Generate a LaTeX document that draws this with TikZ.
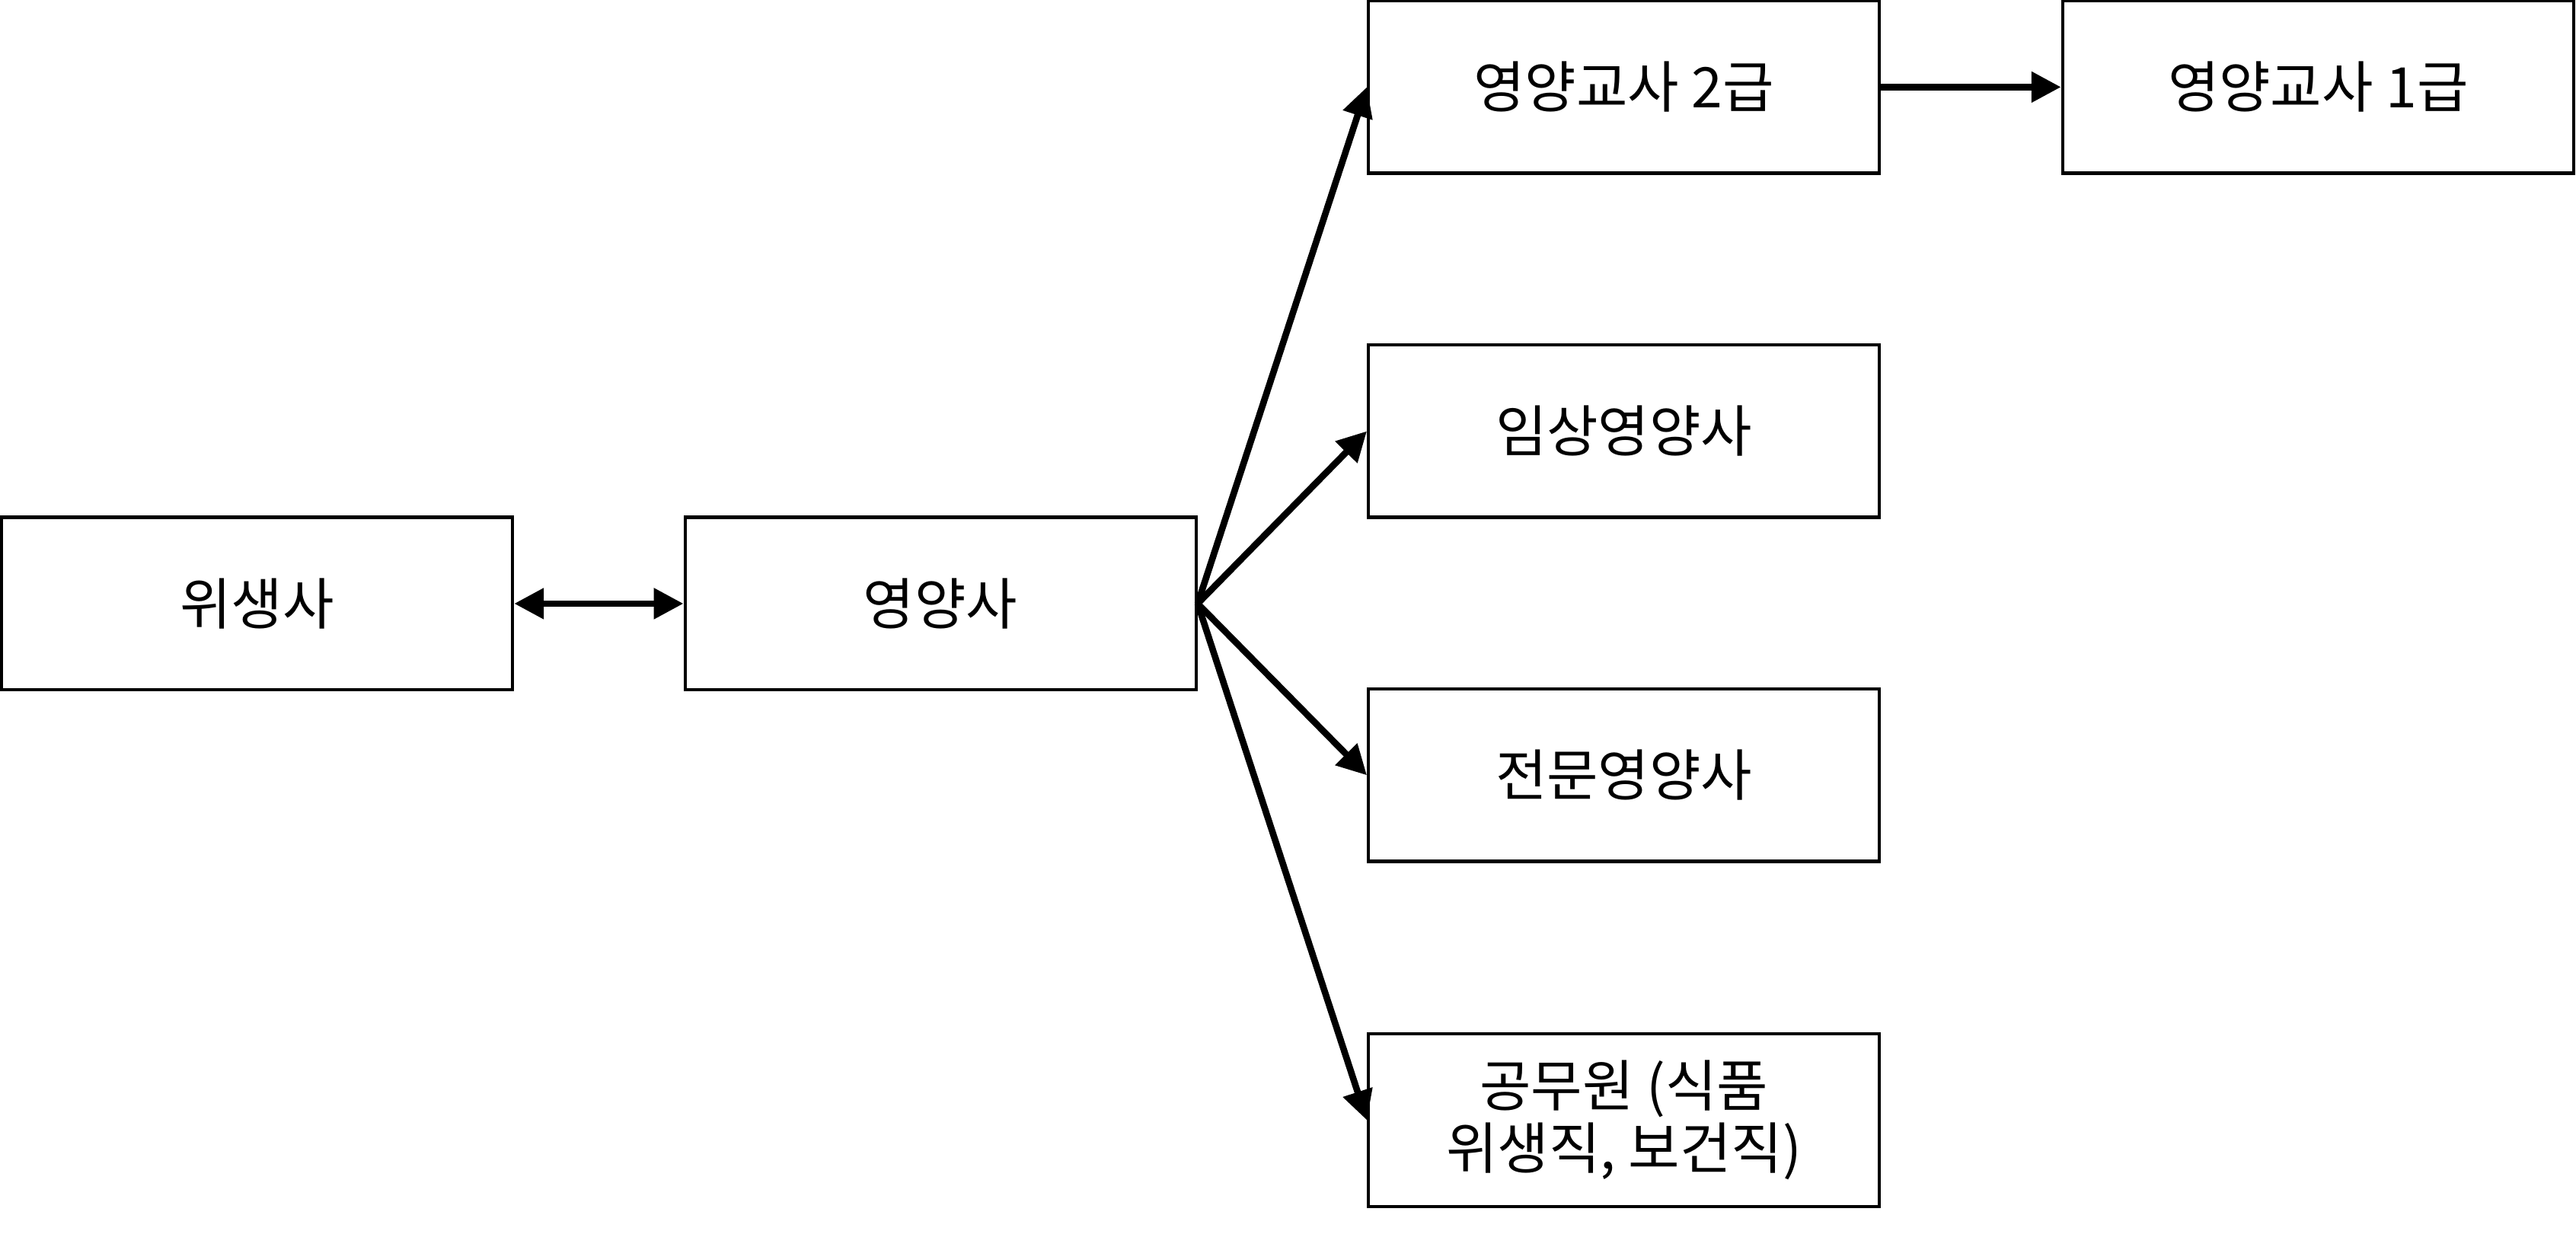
\documentclass[tikz,border=0pt]{standalone}
\usepackage{fontspec}
\setmainfont{Noto Sans CJK KR}
\usetikzlibrary{arrows.meta}
\begin{document}
\begin{tikzpicture}[x=0.5pt,y=-0.5pt,
  box/.style={draw,line width=1pt,minimum width=155.5pt,minimum height=52.5pt,inner sep=0pt,align=center,font=\fontsize{17}{21}\selectfont},
  arr/.style={line width=2pt,-{Triangle[length=9pt,width=9pt]}}]
\useasboundingbox (0,0) rectangle (1568,751);
\node[box] (a) at (156.5,367.5) {위생사};
\node[box] (b) at (572.5,367.5) {영양사};
\node[box] (c) at (988.5,53) {영양교사 2급};
\node[box] (d) at (1411,53) {영양교사 1급};
\node[box] (e) at (988.5,262.5) {임상영양사};
\node[box] (f) at (988.5,472) {전문영양사};
\node[box] (g) at (988.5,682) {공무원 (식품\\[-2pt]위생직, 보건직)};
\draw[line width=2pt,{Triangle[length=9pt,width=9pt]}-{Triangle[length=9pt,width=9pt]}] (a) -- (b);
\coordinate (s) at (b.east);
\draw[arr] (s) -- (c.west);
\draw[arr] (s) -- (e.west);
\draw[arr] (s) -- (f.west);
\draw[arr] (s) -- (g.west);
\draw[arr] (c) -- (d);
\end{tikzpicture}
\end{document}
